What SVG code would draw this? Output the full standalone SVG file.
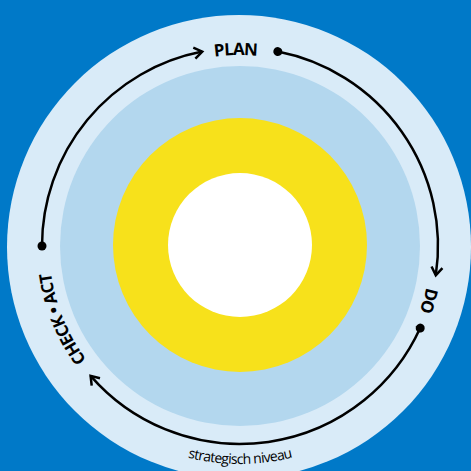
<svg xmlns="http://www.w3.org/2000/svg" width="471" height="471" viewBox="0 0 471 471">
<style>
.arc{fill:none;stroke:#000;stroke-width:2.5;marker-start:url(#dot);marker-end:url(#arrow)}
.lbl{font-family:"Open Sans","Liberation Sans",sans-serif;font-weight:bold;font-size:17px;letter-spacing:-0.5px;fill:#000;dominant-baseline:central}
.sub{font-family:"Open Sans","Liberation Sans",sans-serif;font-size:14px;letter-spacing:-0.7px;fill:#000}
</style>
<defs>
<marker id="arrow" markerUnits="userSpaceOnUse" viewBox="-12 -8 16 16" markerWidth="16" markerHeight="16" refX="0" refY="0" orient="auto" overflow="visible">
<path d="M-8,-5.5 L0,0 L-8,5.5" fill="none" stroke="#000" stroke-width="2.5"/>
</marker>
<marker id="dot" markerUnits="userSpaceOnUse" viewBox="-6 -6 12 12" markerWidth="12" markerHeight="12" refX="0" refY="0" orient="auto">
<circle r="4.5" fill="#000"/>
</marker>
<path id="ring" d="M42,246 A198,198 0 0 1 438,246 A198,198 0 0 1 42,246"/>
<path id="bottom" d="M22,246 A218,218 0 0 0 458,246"/>
</defs>
<rect width="471" height="471" fill="#0079C8"/>
<g id="outer"><circle cx="239" cy="247" r="232" fill="#D9EBF8"/></g>
<g id="middle"><circle cx="240" cy="246" r="180" fill="#B3D7EE"/></g>
<g id="yellow"><circle cx="240" cy="245" r="127" fill="#F7E11B"/></g>
<g id="core"><circle cx="240" cy="245" r="72" fill="#FFFFFF"/></g>
<g id="connectors">
<path class="arc" d="M42,246 A198,198 0 0 1 202.2,51.6"/>
<path class="arc" d="M277.8,51.6 A198,198 0 0 1 435.8,275.3"/>
<path class="arc" d="M420.2,328.1 A198,198 0 0 1 90.6,375.9"/>
</g>
<g id="plan"><text class="lbl"><textPath href="#ring" startOffset="24.65%" text-anchor="middle">PLAN</textPath></text></g>
<g id="do"><text class="lbl"><textPath href="#ring" startOffset="54.5%" text-anchor="middle">DO</textPath></text></g>
<g id="checkact"><text class="lbl"><textPath href="#ring" startOffset="93.8%" text-anchor="middle">CHECK • ACT</textPath></text></g>
<g id="level"><text class="sub"><textPath href="#bottom" startOffset="50%" text-anchor="middle">strategisch niveau</textPath></text></g>
</svg>
